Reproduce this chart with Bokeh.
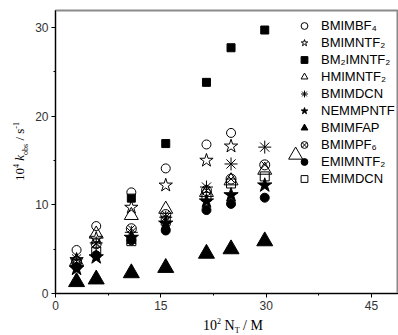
from bokeh.plotting import figure
from bokeh.models import SingleIntervalTicker, Legend, LegendItem, Div
from bokeh.layouts import row, column
from bokeh.embed import file_html
from bokeh.resources import INLINE

# ---------------- data ----------------
x_common = [3.0, 5.8, 10.8, 15.7, 21.5, 25.0, 29.8]

bmimbf4_x = [3.0, 5.8, 10.8, 15.7, 21.5, 25.0]
bmimbf4_y = [4.9, 7.6, 11.4, 14.1, 16.8, 18.1]

bmimntf2_x = [3.0, 5.8, 10.8, 15.7, 21.5, 25.0]
bmimntf2_y = [3.8, 6.2, 9.7, 12.2, 15.0, 16.6]

bm2imntf2_x = [10.8, 15.7, 21.5, 25.0, 29.8]
bm2imntf2_y = [10.75, 16.9, 23.8, 27.7, 29.7]

hmimntf2_x = [3.0, 5.8, 10.8, 15.7, 21.5, 25.0, 29.8, 34.2]
hmimntf2_y = [3.6, 6.7, 8.8, 9.5, 11.4, 12.7, 13.9, 15.6]

bmimdcn_y = [3.9, 5.7, 6.9, 8.6, 12.0, 14.6, 16.5]
nemmpntf_y = [2.8, 4.1, 6.3, 7.9, 10.4, 11.1, 12.2]
bmimfap_y = [1.3, 1.6, 2.3, 2.9, 4.5, 5.0, 5.9]
bmimpf6_y = [3.6, 5.6, 7.3, 8.9, 11.6, 12.9, 14.5]
emimntf2_y = [3.0, 4.3, 6.0, 7.1, 9.4, 10.1, 10.8]
emimdcn_y = [3.35, 4.7, 5.9, 8.2, 10.9, 12.4, 13.2]

legend_labels = ["BMIMBF\u2084", "BMIMNTF\u2082", "BM\u2082IMNTF\u2082", "HMIMNTF\u2082",
                 "BMIMDCN", "NEMMPNTF", "BMIMFAP", "BMIMPF\u2086", "EMIMNTF\u2082",
                 "EMIMDCN"]

SUP = '<sup style="font-size:8px">'
SUB = '<sub style="font-size:8px">'
x_title_html = "10" + SUP + "2</sup> N" + SUB + "T</sub> / M"
y_title_html = "10" + SUP + "4</sup> <i>k</i>" + SUB + "obs</sub> / s" + SUP + "-1</sup>"

# ---------------- figure ----------------
YW = 28
PW, PH = 370, 315
XH = 20
p = figure(width=PW, height=PH, output_backend="svg", toolbar_location=None,
           x_range=(0, 48.85), y_range=(0, 31.9),
           min_border_left=27, min_border_top=10, min_border_right=0,
           min_border_bottom=22)
p.outline_line_color = "#8a8a8a"
p.outline_line_width = 2
p.xgrid.visible = False
p.ygrid.visible = False
p.background_fill_color = "white"
p.border_fill_color = "white"

p.xaxis.ticker = SingleIntervalTicker(interval=15, num_minor_ticks=2)
p.yaxis.ticker = SingleIntervalTicker(interval=10, num_minor_ticks=2)
for ax in (p.xaxis, p.yaxis):
    ax.axis_line_color = "black"
    ax.axis_line_width = 1
    ax.major_tick_line_color = "black"
    ax.minor_tick_line_color = "black"
    ax.major_tick_in = 0
    ax.major_tick_out = 4
    ax.minor_tick_in = 0
    ax.minor_tick_out = 2
    ax.major_label_text_font = "Liberation Sans"
    ax.major_label_text_font_size = "12px"
    ax.major_label_text_color = "#333333"
    ax.axis_label = None
p.xaxis.major_label_standoff = 3
p.yaxis.major_label_standoff = 3

# ---------------- scatter series ----------------
renderers = []
renderers.append(p.scatter(bmimbf4_x, bmimbf4_y, marker="circle", size=9,
                           fill_color=None, line_color="black", line_width=1))
renderers.append(p.scatter(bmimntf2_x, bmimntf2_y, marker="star", size=14,
                           fill_color=None, line_color="black", line_width=1))
renderers.append(p.scatter(bm2imntf2_x, bm2imntf2_y, marker="square", size=8,
                           fill_color="black", line_color="black"))
renderers.append(p.scatter(hmimntf2_x, hmimntf2_y, marker="triangle", size=14,
                           fill_color=None, line_color="black", line_width=1))
renderers.append(p.scatter(x_common, bmimdcn_y, marker="asterisk", size=13,
                           line_color="black", line_width=1))
renderers.append(p.scatter(x_common, nemmpntf_y, marker="star", size=15,
                           fill_color="black", line_color="black"))
renderers.append(p.scatter(x_common, bmimfap_y, marker="triangle", size=16,
                           fill_color="black", line_color="black"))
renderers.append(p.scatter(x_common, bmimpf6_y, marker="circle_x", size=10,
                           fill_color=None, line_color="black", line_width=1))
renderers.append(p.scatter(x_common, emimntf2_y, marker="circle", size=9,
                           fill_color="black", line_color="black"))
renderers.append(p.scatter(x_common, emimdcn_y, marker="square", size=9,
                           fill_color=None, line_color="black", line_width=1))

items = [LegendItem(label=lab, renderers=[rr]) for lab, rr in zip(legend_labels, renderers)]
legend = Legend(items=items, location=(239, 106), border_line_color=None,
                background_fill_alpha=0, label_text_font="Liberation Sans",
                label_text_font_size="13px", label_text_color="black",
                glyph_height=17, glyph_width=20, label_height=17, spacing=0,
                padding=0, margin=0, label_standoff=7)
p.add_layout(legend)

# ---------------- axis titles as HTML text ----------------
ydiv = Div(width=YW, height=PH + XH, margin=0,
           text=('<div style="position:absolute; left:9px; top:181px; '
                 'transform:rotate(-90deg); transform-origin:left top; '
                 'white-space:nowrap; font-family:\'Liberation Serif\'; '
                 'font-size:13px; line-height:15px; color:black;">'
                 + y_title_html + '</div>'))
xdiv = Div(width=PW, height=XH, margin=0,
           text=('<div style="position:absolute; left:175px; top:-1px; '
                 'white-space:nowrap; font-family:\'Liberation Serif\'; '
                 'font-size:14px; line-height:16px; color:black;">'
                 + x_title_html + '</div>'))

layout = row(ydiv, column(p, xdiv, spacing=0), spacing=0)

open("out.html", "w").write(file_html(layout, INLINE))
